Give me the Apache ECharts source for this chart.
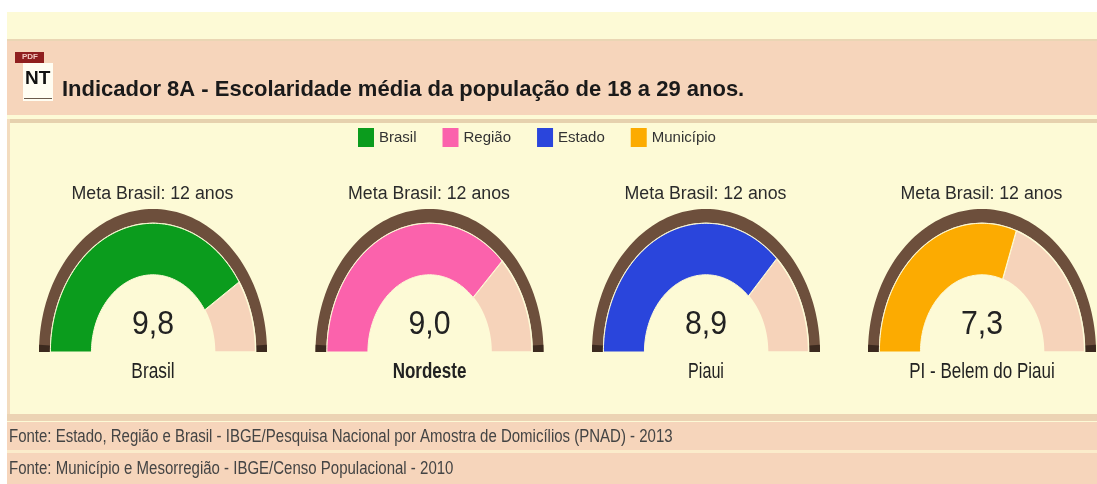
<!DOCTYPE html>
<html>
<head>
<meta charset="utf-8">
<style>html,body{margin:0;padding:0;background:#fff}#c{width:1097px;height:484px}</style>
<script src="https://cdn.jsdelivr.net/npm/echarts@6/dist/echarts.min.js"></script>
</head>
<body>
<div id="c"></div>
<script>
var legendNames = ['Brasil', 'Região', 'Estado', 'Município'];
var placeNames = ['Brasil', 'Nordeste', 'Piaui', 'PI - Belem do Piaui'];
var values = [9.8, 9.0, 8.9, 7.3];
var goal = 12;
var goalLabel = 'Meta Brasil: 12 anos';
var colors = ['#0b9c1d', '#fb62ac', '#2a45dc', '#fcab01'];
var titleText = 'Indicador 8A - Escolaridade média da população de 18 a 29 anos.';
var source1 = 'Fonte: Estado, Região e Brasil - IBGE/Pesquisa Nacional por Amostra de Domicílios (PNAD) - 2013';
var source2 = 'Fonte: Município e Mesorregião - IBGE/Censo Populacional - 2010';
var centers = [153, 429.5, 706, 982];
var labelWidthScale = [1.02, 1.0, 0.95, 1.0];

var RING_OUT = 1, RING_IN = 0.905, BAND_OUT = 0.9, BAND_IN = 0.54;
var FONT = '"Liberation Sans",sans-serif';

function arc(api, rOut, rIn, a0, a1) {
  var pts = [], n = 90, i, a;
  for (i = 0; i <= n; i++) {
    a = a0 + (a1 - a0) * i / n;
    pts.push(api.coord([-rOut * Math.cos(a), rOut * Math.sin(a)]));
  }
  for (i = n; i >= 0; i--) {
    a = a0 + (a1 - a0) * i / n;
    pts.push(api.coord([-rIn * Math.cos(a), rIn * Math.sin(a)]));
  }
  return pts;
}
function stretched(text, x, y, font, sx, sy, fill) {
  return {
    type: 'group', x: x, y: y, scaleX: sx, scaleY: sy,
    children: [{ type: 'text', style: { text: text, x: 0, y: 0, font: font, fill: fill, align: 'center', verticalAlign: 'middle' } }]
  };
}
function makeRender(idx) {
  return function (params, api) {
    var v = api.value(0), end = v / goal * Math.PI, mid = api.coord([0, 0]);
    var top = api.coord([0, 1]);
    return {
      type: 'group',
      children: [
        { type: 'polygon', shape: { points: arc(api, RING_OUT, RING_IN, 0, Math.PI) }, style: { fill: '#6d4f3c' } },
        { type: 'polygon', shape: { points: arc(api, RING_OUT, RING_IN, 0, 0.05) }, style: { fill: '#3c2a1f' } },
        { type: 'polygon', shape: { points: arc(api, RING_OUT, RING_IN, Math.PI - 0.05, Math.PI) }, style: { fill: '#3c2a1f' } },
        { type: 'polygon', shape: { points: arc(api, BAND_OUT, BAND_IN, end, Math.PI) }, style: { fill: '#f6d3ba', stroke: '#fdfad6', lineWidth: 1.5 } },
        { type: 'polygon', shape: { points: arc(api, BAND_OUT, BAND_IN, 0, end) }, style: { fill: colors[idx], stroke: '#fdfad6', lineWidth: 1 } },
        stretched(goalLabel, mid[0] - 0.5, top[1] - 15, '16px ' + FONT, 1.11, 1.15, '#2b2b2b'),
        stretched(v.toFixed(1).replace('.', ','), mid[0], mid[1] - 27, '27px ' + FONT, 1.12, 1.25, '#222'),
        stretched(placeNames[idx], mid[0], mid[1] + 20, (idx === 1 ? 'bold ' : '') + '17px ' + FONT, labelWidthScale[idx], 1.3, '#222')
      ]
    };
  };
}

var grids = [], xAxes = [], yAxes = [], series = [];
centers.forEach(function (cx, i) {
  grids.push({ left: cx - 114, width: 228, top: 209, height: 143, containLabel: false });
  xAxes.push({ type: 'value', gridIndex: i, min: -1, max: 1, show: false });
  yAxes.push({ type: 'value', gridIndex: i, min: 0, max: 1, show: false });
  series.push({
    type: 'custom', name: legendNames[i], xAxisIndex: i, yAxisIndex: i,
    itemStyle: { color: colors[i] }, silent: true, clip: false,
    data: [[values[i]]], renderItem: makeRender(i)
  });
});

function band(x, y, w, h, fill) {
  return { type: 'rect', shape: { x: x, y: y, width: w, height: h }, style: { fill: fill }, silent: true, z: 0 };
}
function sourceText(text, y) {
  return { type: 'text', x: 9, y: y, scaleY: 1.25, style: { text: text, font: '15px ' + FONT, fill: '#444', verticalAlign: 'middle' }, z: 3 };
}

var chart = echarts.init(document.getElementById('c'), null, { renderer: 'canvas' });
chart.setOption({
  animation: false,
  backgroundColor: '#ffffff',
  graphic: { elements: [
    band(7, 12, 1090, 472, '#fdfad6'),
    band(7, 40, 1090, 75, '#f6d5bb'),
    band(7, 39, 1090, 2, '#ead6b4'),
    band(7, 119, 1090, 4, '#e6d1ae'),
    band(7, 119, 3, 300, '#f3dcbf'),
    band(7, 414, 1090, 7, '#ecd3b4'),
    band(7, 422, 1090, 62, '#f6d5bb'),
    band(7, 450, 1090, 3, '#fbeccb'),
    { type: 'rect', shape: { x: 23, y: 63, width: 30, height: 38 }, style: { fill: '#fffdf2' }, z: 1 },
    { type: 'rect', shape: { x: 15, y: 52, width: 29, height: 11 }, style: { fill: '#8f1f1f' }, z: 2 },
    { type: 'text', x: 22, y: 53, style: { text: 'PDF', font: 'bold 8px "Liberation Sans"', fill: '#f3c9c0' }, z: 3 },
    { type: 'text', x: 25, y: 69, style: { text: 'NT', font: 'bold 19px "Liberation Sans"', fill: '#111' }, z: 3 },
    { type: 'rect', shape: { x: 24, y: 98, width: 28, height: 1 }, style: { fill: '#6b5a4c' }, z: 3 },
    sourceText(source1, 437),
    sourceText(source2, 469)
  ] },
  title: { text: titleText, left: 62, top: 79, padding: 0, textStyle: { fontFamily: FONT, fontWeight: 'bold', fontSize: 22, color: '#1a1a1a' } },
  legend: {
    data: legendNames, left: 358, top: 128, padding: 0, itemWidth: 16, itemHeight: 19, itemGap: 26,
    icon: 'rect', selectedMode: false,
    textStyle: { fontFamily: FONT, fontSize: 15, color: '#333' }
  },
  grid: grids, xAxis: xAxes, yAxis: yAxes, series: series
});
</script>
</body>
</html>
